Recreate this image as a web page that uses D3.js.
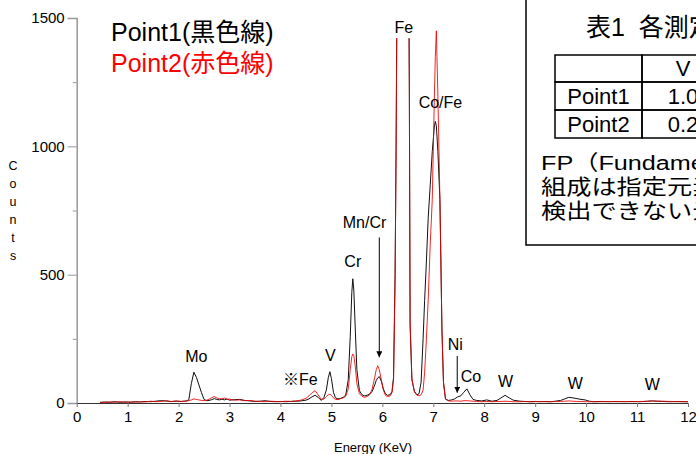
<!DOCTYPE html>
<html>
<head>
<meta charset="utf-8">
<script src="https://cdn.jsdelivr.net/npm/d3@7"></script>
<style>
  body { margin: 0; background: #fff; }
  svg { display: block; font-family: 'Liberation Sans', Arial, 'Noto Sans CJK JP', sans-serif; }
</style>
</head>
<body>
<svg id="chart"></svg>
<script>
// spectrum (keV, counts)
var energy = [0.46, 0.55, 0.65, 0.75, 0.85, 0.95, 1.05, 1.15, 1.25, 1.35, 1.45, 1.55, 1.65, 1.75, 1.85, 1.95,
  2.05, 2.15, 2.20, 2.25, 2.30, 2.35, 2.40, 2.45, 2.50, 2.55, 2.60, 2.65, 2.70, 2.75, 2.80, 2.85, 2.90, 2.95,
  3.00, 3.10, 3.20, 3.30, 3.40, 3.50, 3.60, 3.70, 3.80, 3.90, 4.00, 4.10, 4.20, 4.30, 4.40, 4.50, 4.56, 4.62,
  4.68, 4.74, 4.80, 4.85, 4.90, 4.94, 4.97, 5.00, 5.04, 5.08, 5.13, 5.18, 5.23, 5.28, 5.33, 5.37, 5.40, 5.42,
  5.44, 5.47, 5.50, 5.55, 5.60, 5.65, 5.70, 5.75, 5.80, 5.85, 5.88, 5.91, 5.94, 5.98, 6.02, 6.06, 6.10, 6.15,
  6.19, 6.22, 6.25, 6.27, 6.29, 6.33, 6.40, 6.47, 6.51, 6.53, 6.545, 6.58, 6.63, 6.68, 6.72, 6.76, 6.80, 6.83,
  6.86, 6.90, 6.94, 6.98, 7.02, 7.04, 7.06, 7.09, 7.13, 7.17, 7.20, 7.24, 7.30, 7.36, 7.42, 7.48, 7.54, 7.60,
  7.66, 7.72, 7.78, 7.85, 7.95, 8.05, 8.15, 8.25, 8.33, 8.41, 8.49, 8.57, 8.70, 8.80, 8.90, 9.00, 9.10, 9.20,
  9.30, 9.40, 9.50, 9.58, 9.66, 9.74, 9.82, 9.90, 9.98, 10.06, 10.15, 10.30, 10.45, 10.60, 10.75, 10.90,
  11.05, 11.20, 11.30, 11.40, 11.50, 11.65, 11.80, 11.95, 12.00];

var point1 = [2, 4, 3, 5, 3, 4, 3, 5, 4, 6, 5, 7, 9, 8, 6, 7,
  6, 8, 12, 75, 120, 100, 70, 40, 14, 9, 10, 13, 17, 14, 12, 15, 12, 16,
  11, 13, 14, 10, 8, 6, 7, 9, 6, 5, 6, 5, 6, 7, 8, 11, 16, 24,
  30, 22, 10, 20, 50, 100, 122, 95, 42, 20, 16, 18, 22, 30, 90, 260, 430, 484,
  440, 280, 130, 48, 32, 28, 30, 35, 45, 70, 88, 98, 103, 85, 55, 36, 30, 32,
  45, 100, 500, 1000, 1700, 3000, 4000, 3000, 2000, 1200, 300, 90, 45, 32, 36, 80, 250, 400,
  530, 720, 850, 980, 1075, 1097, 1080, 980, 793, 285, 80, 15, 10, 12, 16, 24, 28, 42,
  55, 32, 14, 10, 8, 12, 7, 10, 20, 30, 20, 11, 7, 6, 5, 6, 5, 6,
  5, 7, 10, 16, 22, 20, 17, 14, 12, 7, 5, 6, 5, 6, 5, 6,
  5, 7, 8, 7, 6, 5, 6, 5, 5];

var point2 = [3, 2, 4, 3, 5, 3, 4, 3, 5, 4, 7, 5, 6, 9, 5, 8,
  6, 7, 9, 12, 16, 14, 12, 10, 9, 11, 15, 21, 25, 20, 17, 16, 19, 14,
  15, 11, 12, 9, 10, 7, 6, 5, 7, 6, 5, 7, 6, 8, 11, 18, 28, 40,
  48, 32, 14, 15, 25, 32, 34, 30, 20, 14, 13, 17, 20, 26, 55, 130, 180, 191,
  185, 140, 75, 36, 26, 22, 25, 32, 55, 100, 130, 145, 130, 90, 50, 30, 25, 27,
  40, 95, 480, 980, 1700, 3000, 4000, 3000, 2000, 1250, 320, 95, 42, 30, 28, 32, 50, 120,
  230, 402, 620, 793, 1183, 1350, 1450, 1200, 793, 285, 80, 15, 8, 7, 8, 8, 7, 9,
  9, 8, 7, 6, 5, 6, 5, 6, 6, 7, 6, 5, 5, 6, 5, 5, 6, 5,
  5, 6, 6, 7, 8, 7, 6, 6, 5, 5, 5, 5, 6, 5, 6, 5,
  6, 6, 8, 7, 7, 6, 5, 5, 5];

var xTicks = [0, 1, 2, 3, 4, 5, 6, 7, 8, 9, 10, 11, 12];
var yTicks = [0, 500, 1000, 1500];
var yMinorTicks = [250, 750, 1250];

// peak annotations: label, keV, counts at the label baseline
var peakLabels = ['Mo', '※Fe', 'V', 'Cr', 'Mn/Cr', 'Fe', 'Co/Fe', 'Ni', 'Co', 'W', 'W', 'W'];
var peakEnergy = [2.35, 4.39, 4.98, 5.42, 5.65, 6.42, 7.14, 7.43, 7.74, 8.42, 9.79, 11.3];
var peakCounts = [160, 70, 165, 528, 682, 1441, 1150, 205, 80, 62, 55, 52];
var arrowEnergy = [5.94, 7.47];
var arrowTop = [645, 183];
var arrowBottom = [178, 40];

var legendNames = ['Point1(黒色線)', 'Point2(赤色線)'];
var legendColors = ['#000', '#f00'];

var tableTitle = '表1  各測定点の半定量分析結果';
var tableHeader = ['', 'V', 'Cr', 'Fe'];
var tableRows = [['Point1', '1.0', '5.2', '60.3'], ['Point2', '0.2', '2.1', '65.0']];
var tableNotes = ['FP（Fundamental Parameter）法による定量値', '組成は指定元素の合計を100%としています', '検出できない元素は表示していません'];

var width = 696, height = 454;
var svg = d3.select('#chart').attr('width', width).attr('height', height);

var x = d3.scaleLinear().domain([0, 12]).range([76.7, 688]);
var y = d3.scaleLinear().domain([0, 1500]).range([403, 18]);

svg.append('defs').append('clipPath').attr('id', 'plot')
  .append('rect').attr('x', 76).attr('y', 18).attr('width', 614).attr('height', 386);

// axes
var yAxis = svg.append('g').attr('transform', 'translate(' + x(0) + ',0)')
  .call(d3.axisLeft(y).tickValues(yTicks).tickFormat(d3.format('d')).tickSize(9).tickPadding(3));
yAxis.select('.domain').attr('stroke', '#999').attr('stroke-width', 1.5);
yAxis.selectAll('.tick line').attr('stroke', '#999');
yAxis.selectAll('text').attr('font-size', 15).attr('fill', '#000');
svg.append('g').attr('transform', 'translate(' + x(0) + ',0)')
  .call(d3.axisLeft(y).tickValues(yMinorTicks).tickSize(4).tickFormat(''))
  .call(function(g) { g.select('.domain').remove(); g.selectAll('line').attr('stroke', '#999'); });

var xAxis = svg.append('g').attr('transform', 'translate(0,' + y(0) + ')')
  .call(d3.axisBottom(x).tickValues(xTicks).tickSize(4).tickSizeOuter(0).tickPadding(4));
xAxis.select('.domain').attr('stroke', '#333');
xAxis.selectAll('.tick line').attr('stroke', '#777');
xAxis.selectAll('text').attr('font-size', 15).attr('fill', '#000');

svg.append('text').attr('x', 373).attr('y', 452).attr('text-anchor', 'middle')
  .attr('font-size', 13).text('Energy (KeV)');
svg.append('text').attr('font-size', 12.5).attr('text-anchor', 'middle')
  .selectAll('tspan').data('Counts'.split('')).enter().append('tspan')
  .attr('x', 13).attr('y', function(d, i) { return 170 + i * 18; })
  .text(function(d) { return d; });

// spectra
var line = d3.line()
  .x(function(d, i) { return x(energy[i]); })
  .y(function(d) { return y(d); });
var lines = svg.append('g').attr('clip-path', 'url(#plot)').attr('fill', 'none');
lines.append('path').attr('d', line(point1)).attr('stroke', '#111').attr('stroke-width', 1);
lines.append('path').attr('d', line(point2)).attr('stroke', '#e00').attr('stroke-width', 1).attr('stroke-opacity', 0.85);

// peak labels
var labels = svg.append('g').attr('font-size', 16).attr('text-anchor', 'middle');
labels.selectAll('text').data(peakLabels).enter().append('text')
  .attr('x', function(d, i) { return x(peakEnergy[i]); })
  .attr('y', function(d, i) { return y(peakCounts[i]); })
  .text(function(d) { return d; })
  .each(function(d) {
    if (d === 'Fe') {
      var b = this.getBBox();
      labels.insert('rect', function() { return labels.node().firstChild; })
        .attr('x', b.x - 1).attr('y', 14).attr('width', b.width + 2).attr('height', b.y + b.height - 12)
        .attr('fill', '#fff');
    }
  });

svg.append('defs').append('marker').attr('id', 'head')
  .attr('viewBox', '0 0 6 6').attr('refX', 6).attr('refY', 3)
  .attr('markerWidth', 6).attr('markerHeight', 6).attr('orient', 'auto')
  .append('path').attr('d', 'M0,0L6,3L0,6Z').attr('fill', '#000');
svg.selectAll('.arrow').data(arrowEnergy).enter().append('line')
  .attr('class', 'arrow')
  .attr('x1', function(d) { return x(d); }).attr('x2', function(d) { return x(d); })
  .attr('y1', function(d, i) { return y(arrowTop[i]); })
  .attr('y2', function(d, i) { return y(arrowBottom[i]); })
  .attr('stroke', '#000').attr('stroke-width', 1).attr('marker-end', 'url(#head)');

// legend
svg.selectAll('.legend').data(legendNames).enter().append('text')
  .attr('class', 'legend')
  .attr('x', 111).attr('y', function(d, i) { return 41 + i * 31; })
  .attr('font-size', 25)
  .attr('fill', function(d, i) { return legendColors[i]; })
  .text(function(d) { return d; });

// table box
var box = svg.append('g');
box.append('rect').attr('x', 526).attr('y', -5).attr('width', 300).attr('height', 250)
  .attr('fill', '#fff').attr('stroke', '#000').attr('stroke-width', 1.5);
box.append('text').attr('x', 586).attr('y', 36).attr('font-size', 25)
  .style('white-space', 'pre').text(tableTitle);

var colX = [555, 642, 724, 806, 888];
var rowY = [55, 82, 110, 138];
var cells = [tableHeader].concat(tableRows);
cells.forEach(function(row, r) {
  row.forEach(function(v, c) {
    box.append('rect').attr('x', colX[c]).attr('y', rowY[r])
      .attr('width', colX[c + 1] - colX[c]).attr('height', rowY[r + 1] - rowY[r])
      .attr('fill', 'none').attr('stroke', '#000').attr('stroke-width', 1.5);
    box.append('text')
      .attr('x', (colX[c] + colX[c + 1]) / 2).attr('y', rowY[r + 1] - 6)
      .attr('text-anchor', 'middle').attr('font-size', 22).text(v);
  });
});
// notes are set in a wide face in the original, so stretch them a little
box.selectAll('.note').data(tableNotes).enter().append('text')
  .attr('class', 'note')
  .attr('transform', function(d, i) { return 'translate(541,' + (170 + i * 24) + ') scale(1.2,1)'; })
  .attr('font-size', 21).text(function(d) { return d; });
</script>
</body>
</html>
